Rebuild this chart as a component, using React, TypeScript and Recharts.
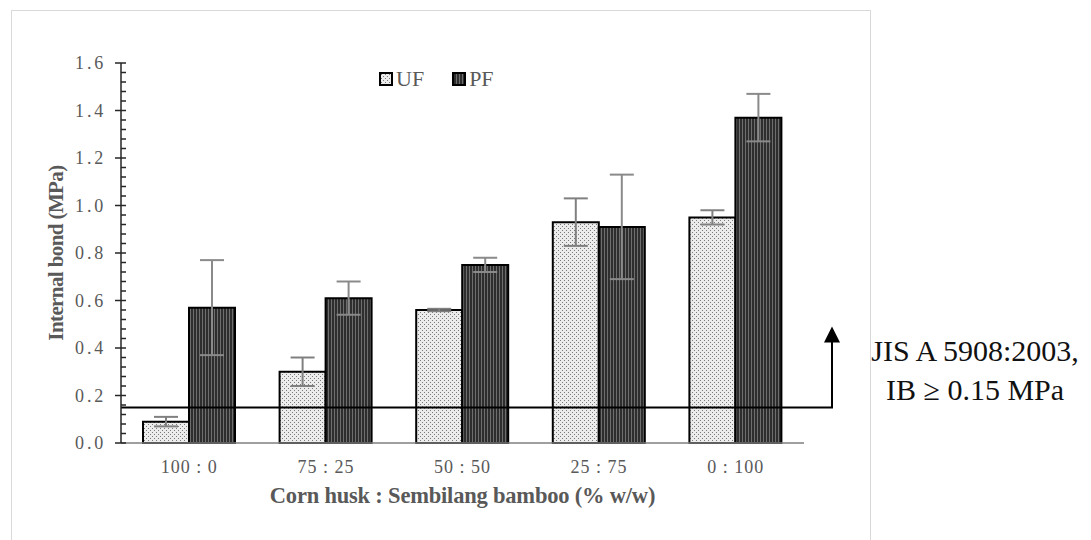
import { BarChart, Bar, XAxis, YAxis, ErrorBar, ReferenceLine, Legend } from 'recharts'

const categories = ['100 : 0', '75 : 25', '50 : 50', '25 : 75', '0 : 100']
const ufValues = [0.09, 0.3, 0.56, 0.93, 0.95]
const ufErrors = [0.02, 0.06, 0.005, 0.1, 0.03]
const pfValues = [0.57, 0.61, 0.75, 0.91, 1.37]
const pfErrors = [0.2, 0.07, 0.03, 0.22, 0.1]
const yMajorTicks = [0, 0.2, 0.4, 0.6, 0.8, 1.0, 1.2, 1.4, 1.6]
const yMinorStep = 0.04
const jisLimit = 0.15

const data = categories.map((name, i) => ({
  name,
  uf: ufValues[i],
  ufErr: ufErrors[i],
  pf: pfValues[i],
  pfErr: pfErrors[i],
}))

// every minor tick, majors are picked out in the tick renderer
const yTicks = Array.from({ length: Math.round(1.6 / yMinorStep) + 1 }, (_, i) => +(i * yMinorStep).toFixed(2))

const serif = '"Liberation Serif", "DejaVu Serif", serif'
const grey = '#595959'

const YTick = ({ x, y, payload }: any) => {
  const v = payload.value
  const major = yMajorTicks.some((t) => Math.abs(t - v) < 1e-6)
  return (
    <g>
      <line x1={major ? x - 6 : x} x2={x + 5} y1={y} y2={y} stroke="#262626" strokeWidth={1.5} />
      {major && (
        <text x={x - 15} y={y} dy="0.35em" textAnchor="end" fill={grey} style={{ fontFamily: serif, fontSize: 18, letterSpacing: 2.8 }}>
          {v.toFixed(1)}
        </text>
      )}
    </g>
  )
}

const XTick = ({ x, y, payload }: any) => (
  <text x={x} y={y + 30} textAnchor="middle" fill={grey} style={{ fontFamily: serif, fontSize: 18, letterSpacing: 1 }}>
    {payload.value}
  </text>
)

const YTitle = ({ viewBox }: any) => {
  const cx = viewBox.x + 43
  const cy = viewBox.y + viewBox.height / 2
  return (
    <text x={cx} y={cy} textAnchor="middle" transform={`rotate(-90 ${cx} ${cy})`} fill={grey} style={{ fontFamily: serif, fontSize: 21, fontWeight: 'bold', letterSpacing: -0.6 }}>
      Internal bond (MPa)
    </text>
  )
}

const XTitle = ({ viewBox }: any) => (
  <text x={viewBox.x + viewBox.width / 2} y={viewBox.y + 60} textAnchor="middle" fill={grey} style={{ fontFamily: serif, fontSize: 22.5, fontWeight: 'bold', letterSpacing: -0.2 }}>
    Corn husk : Sembilang bamboo (% w/w)
  </text>
)

// the JIS limit line runs on past the plot and turns up into an arrow
const LimitLine = (props: any) => {
  const { x1, y1, x2 } = props
  const end = x2 + 28
  const tx = end + 143
  const textStyle = { fontFamily: serif, fontSize: 30 }
  return (
    <g>
      <path d={`M${x1},${y1} H${end} V${y1 - 68}`} stroke="#000" strokeWidth={2} fill="none" />
      <polygon points={`${end - 8},${y1 - 65} ${end + 8},${y1 - 65} ${end},${y1 - 81}`} fill="#000" />
      <text x={tx} y={y1 - 46} textAnchor="middle" fill="#111" style={textStyle}>
        JIS A 5908:2003,
      </text>
      <text x={tx} y={y1 - 7} textAnchor="middle" fill="#111" style={textStyle}>
        IB ≥ 0.15 MPa
      </text>
    </g>
  )
}

const LegendSwatch = ({ fill }: { fill: string }) => (
  <svg width={14} height={14} style={{ marginRight: 3 }}>
    <rect x={1} y={1} width={12} height={12} fill={fill} stroke="#000" strokeWidth={2} />
  </svg>
)

const LegendContent = () => (
  <div style={{ display: 'flex', alignItems: 'center', fontFamily: serif, fontSize: 22, color: grey }}>
    <LegendSwatch fill="url(#ufPattern)" />
    <span style={{ marginRight: 28 }}>UF</span>
    <LegendSwatch fill="url(#pfPattern)" />
    <span>PF</span>
  </div>
)

const App = () => {
  return (
    <div style={{ position: 'absolute', left: 0, top: 0, width: 1091, height: 540, background: '#fff', fontFamily: serif }}>
      <div
        style={{
          position: 'absolute',
          left: 11,
          top: 10,
          width: 858,
          height: 560,
          border: '1.5px solid #d9d9d9',
        }}
      />
      <div style={{ position: 'absolute', left: 0, top: 0 }}>
        <BarChart width={1091} height={540} data={data} margin={{ top: 37, right: 287, left: 20, bottom: 20 }} barGap={0} barSize={46}>
          <defs>
            <pattern id="ufPattern" width={4} height={4} patternUnits="userSpaceOnUse">
              <rect width={4} height={4} fill="#ececec" />
              <rect x={0} y={0} width={1} height={1} fill="#7a7a7a" />
              <rect x={2} y={2} width={1} height={1} fill="#7a7a7a" />
            </pattern>
            <pattern id="pfPattern" width={3} height={3} patternUnits="userSpaceOnUse">
              <rect width={3} height={3} fill="#2e2e2e" />
              <rect x={1} y={0} width={1} height={3} fill="#6e6e6e" />
            </pattern>
          </defs>
          <XAxis
            dataKey="name"
            height={77}
            tickLine={false}
            tickSize={0}
            tickMargin={0}
            axisLine={{ stroke: '#7f7f7f', strokeWidth: 1.5 }}
            tick={<XTick />}
            interval={0}
            label={<XTitle />}
          />
          <YAxis
            width={101}
            domain={[0, 1.6]}
            ticks={yTicks}
            interval={0}
            tickLine={false}
            tickSize={0}
            tickMargin={0}
            axisLine={{ stroke: '#262626', strokeWidth: 1.5 }}
            tick={<YTick />}
            label={<YTitle />}
          />
          <Legend content={<LegendContent />} verticalAlign="top" wrapperStyle={{ top: 66, left: 379, width: 200 }} />
          <Bar dataKey="uf" name="UF" fill="url(#ufPattern)" stroke="#000" strokeWidth={2} isAnimationActive={false}>
            <ErrorBar dataKey="ufErr" width={12} strokeWidth={2} stroke="#808080" direction="y" />
          </Bar>
          <Bar dataKey="pf" name="PF" fill="url(#pfPattern)" stroke="#000" strokeWidth={2} isAnimationActive={false}>
            <ErrorBar dataKey="pfErr" width={12} strokeWidth={2} stroke="#8a8a8a" direction="y" />
          </Bar>
          <ReferenceLine y={jisLimit} shape={<LimitLine />} />
        </BarChart>
      </div>
    </div>
  )
}

export default App
